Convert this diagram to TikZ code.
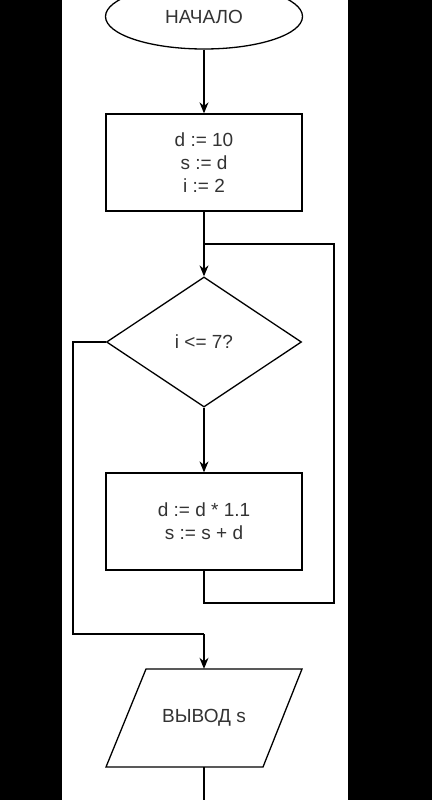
\documentclass[tikz,border=0pt]{standalone}
\usepackage{fontspec}
\setmainfont{Liberation Sans}
\usetikzlibrary{shapes.geometric,arrows.meta}
\definecolor{txt}{RGB}{51,51,51}
\tikzset{
  base/.style={draw=black, line width=1.3pt, fill=white, text=txt, inner sep=0pt, align=center,
    font=\fontsize{19}{23}\selectfont},
  term/.style={base, ellipse, minimum width=197pt, minimum height=65pt},
  proc/.style={base, rectangle, minimum width=196pt, minimum height=97pt},
  dec/.style={base, diamond, minimum width=195pt, minimum height=130pt},
  io/.style={rectangle, inner sep=0pt, minimum width=196pt, minimum height=98pt, text=txt, align=center,
    font=\fontsize{19}{23}\selectfont},
  conn/.style={draw=black, line width=1.3pt},
  arr/.style={conn, -{Stealth[length=11pt,width=9pt]}}
}
\begin{document}
\begin{tikzpicture}[x=1pt,y=-1pt]
\useasboundingbox (0,0) rectangle (432,800);
\fill[black] (0,0) rectangle (432,800);
\fill[white] (62,0) rectangle (348,800);
\node[term] (start) at (204,16.5) {НАЧАЛО};
\node[proc] (init) at (204,162.5) {d := 10\\s := d\\i := 2};
\node[dec] (cond) at (204,342) {i <= 7?};
\node[proc] (body) at (204,521.5) {d := d * 1.1\\s := s + d};
\node[io] (out) at (204,718) {ВЫВОД s};
\draw[line width=1.3pt] (146,669) -- (302,669) -- (263,767) -- (106,767) -- cycle;
\coordinate (lr) at (334,603);
\coordinate (ur) at (334,244);
\coordinate (j) at (204,244);
\coordinate (ll) at (73,342);
\coordinate (lb) at (73,634);
\coordinate (mb) at (204,634);
\coordinate (fin) at (204,805);
\draw[arr] (start.south) -- (init.north);
\draw[arr] (init.south) -- (cond.north);
\draw[arr] (cond.south) -- (body.north);
\draw[conn] (body.south) |- (lr) -- (ur) -- (j);
\draw[conn] (cond.west) -- (ll) -- (lb) -- (mb);
\draw[arr] (mb) -- (out.north);
\draw[conn] (out.south) -- (fin);
\end{tikzpicture}
\end{document}
